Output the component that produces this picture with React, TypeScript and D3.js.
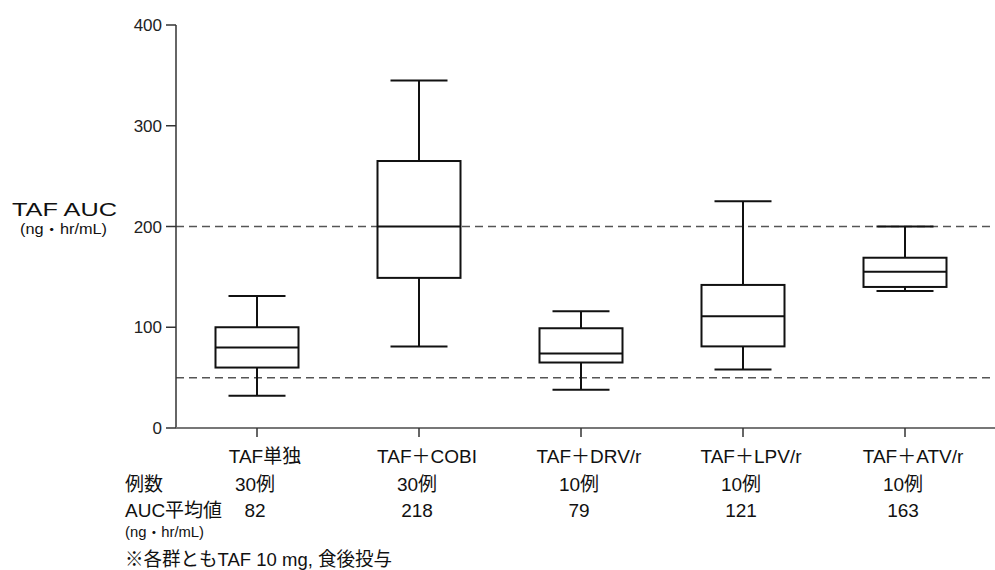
import React from "react";
import * as d3 from "d3";

const categories = ["TAF単独", "TAF＋COBI", "TAF＋DRV/r", "TAF＋LPV/r", "TAF＋ATV/r"];
const whiskerLow = [32, 81, 38, 58, 136];
const q1 = [60, 149, 65, 81, 140];
const median = [80, 200, 74, 111, 155];
const q3 = [100, 265, 99, 142, 169];
const whiskerHigh = [131, 345, 116, 225, 200];
const nCases = ["30例", "30例", "10例", "10例", "10例"];
const meanAUC = ["82", "218", "79", "121", "163"];
const yTicks = [0, 100, 200, 300, 400];
const refLines = [50, 200];

const W = 995;
const H = 570;
const FONT = "'Liberation Sans', Arial, 'Noto Sans CJK JP', sans-serif";

export default function App() {
  const x = d3.scaleBand<string>().domain(categories).range([176, 986]).padding(0);
  const y = d3.scaleLinear().domain([0, 400]).range([428, 25]);
  const bw = x.bandwidth();
  const boxW = 83;
  const capW = 57;

  return (
    <svg
      width={W}
      height={H}
      style={{ position: "absolute", left: 0, top: 0, background: "#fff" }}
      fontFamily={FONT}
    >
      <rect x={0} y={0} width={W} height={H} fill="#fff" />
      {refLines.map((v) => (
        <line
          key={v}
          x1={176}
          x2={W}
          y1={y(v)}
          y2={y(v)}
          stroke="#555"
          strokeWidth={1.5}
          strokeDasharray="8,5"
        />
      ))}
      <line x1={176} x2={176} y1={y(400)} y2={y(0)} stroke="#333" strokeWidth={1.5} />
      {yTicks.map((t) => (
        <g key={t}>
          <line x1={166} x2={176} y1={y(t)} y2={y(t)} stroke="#333" strokeWidth={1.5} />
          <text x={162} y={y(t)} dy="0.36em" textAnchor="end" fontSize={17} fill="#222">
            {t}
          </text>
        </g>
      ))}
      <line x1={176} x2={W} y1={y(0)} y2={y(0)} stroke="#777" strokeWidth={1.8} />
      {categories.map((c) => {
        const cx = (x(c) ?? 0) + bw / 2;
        return (
          <line key={c} x1={cx} x2={cx} y1={y(0)} y2={y(0) + 9} stroke="#333" strokeWidth={1.5} />
        );
      })}
      {categories.map((c, i) => {
        const cx = (x(c) ?? 0) + bw / 2;
        return (
          <g key={c} stroke="#111" strokeWidth={2} fill="none">
            <line x1={cx} x2={cx} y1={y(whiskerHigh[i])} y2={y(q3[i])} />
            <line x1={cx} x2={cx} y1={y(q1[i])} y2={y(whiskerLow[i])} />
            <line x1={cx - capW / 2} x2={cx + capW / 2} y1={y(whiskerHigh[i])} y2={y(whiskerHigh[i])} />
            <line x1={cx - capW / 2} x2={cx + capW / 2} y1={y(whiskerLow[i])} y2={y(whiskerLow[i])} />
            <rect x={cx - boxW / 2} y={y(q3[i])} width={boxW} height={y(q1[i]) - y(q3[i])} fill="#fff" />
            <line x1={cx - boxW / 2} x2={cx + boxW / 2} y1={y(median[i])} y2={y(median[i])} />
          </g>
        );
      })}
      <text x={12} y={216} fontSize={19} fill="#111" textLength={105} lengthAdjust="spacingAndGlyphs">
        TAF AUC
      </text>
      <text x={20} y={234} fontSize={14} fill="#111" textLength={87} lengthAdjust="spacingAndGlyphs">
        (ng・hr/mL)
      </text>
      {categories.map((c, i) => {
        const cx = (x(c) ?? 0) + bw / 2;
        return (
          <g key={c} fill="#111">
            <text x={cx + 8} y={463} textAnchor="middle" fontSize={19}>
              {c}
            </text>
            <text x={cx - 2} y={491} textAnchor="middle" fontSize={19}>
              {nCases[i]}
            </text>
            <text x={cx - 2} y={517} textAnchor="middle" fontSize={19}>
              {meanAUC[i]}
            </text>
          </g>
        );
      })}
      <text x={125} y={491} fontSize={19} fill="#111">例数</text>
      <text x={125} y={517} fontSize={19} fill="#111">AUC平均値</text>
      <text x={125} y={537} fontSize={14} fill="#111" textLength={79} lengthAdjust="spacingAndGlyphs">
        (ng・hr/mL)
      </text>
      <text x={125} y={566} fontSize={19} fill="#111" textLength={267} lengthAdjust="spacingAndGlyphs">
        ※各群ともTAF 10 mg, 食後投与
      </text>
    </svg>
  );
}
